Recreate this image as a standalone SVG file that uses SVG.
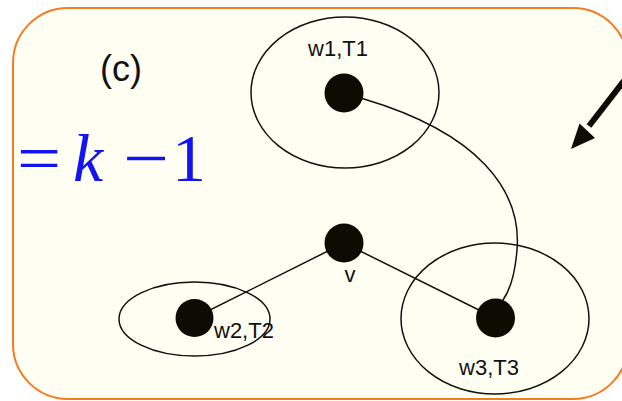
<svg xmlns="http://www.w3.org/2000/svg" width="622" height="401" viewBox="0 0 622 401">
<style>
.frame{fill:#fefef3;stroke:#f77b1f;stroke-width:2}
.set{fill:none;stroke:#111;stroke-width:1.5}
.dot{fill:#0d0c02}
.edge{fill:none;stroke:#111;stroke-width:1.5}
.lbl{font-family:"Liberation Sans",Arial,sans-serif;font-size:22px;fill:#111}
.math{font-family:"Liberation Serif","Times New Roman",serif;font-size:68px;fill:#1414f0}
</style>
<rect class="frame" x="13" y="8" width="615" height="391" rx="55" ry="55"/>
<text class="lbl" x="100" y="81" style="font-size:36px">(c)</text>
<g id="formula">
<text class="math" transform="translate(17,181) scale(1.15,1)" x="0" y="0">=</text>
<text class="math" x="73" y="181" font-style="italic">k</text>
<text class="math" transform="translate(123,181) scale(1.2,1)" x="0" y="0">−</text>
<text class="math" x="172" y="181">1</text>
</g>
<g id="pointer">
<line x1="630" y1="73" x2="589" y2="126" stroke="#0d0c02" stroke-width="6"/>
<polygon points="571,149 579.5,123.5 595,138" fill="#0d0c02"/>
</g>
<g id="connectors">
<line class="edge" x1="344" y1="243" x2="194" y2="318"/>
<line class="edge" x1="344" y1="243" x2="495" y2="318"/>
<path class="edge" d="M344,93 L364,99 C478,133 522,190 517,250 C515,275 510,290 503,300 L495,318"/>
</g>
<g id="w1">
<ellipse class="set" cx="345" cy="92.5" rx="94" ry="75.5"/>
<circle class="dot" cx="344" cy="93" r="19.5"/>
<text class="lbl" x="338" y="56" text-anchor="middle">w1,T1</text>
</g>
<g id="v">
<circle class="dot" cx="344" cy="243" r="19.5"/>
<text class="lbl" x="350" y="282" text-anchor="middle">v</text>
</g>
<g id="w2">
<ellipse class="set" cx="194.5" cy="319" rx="75.5" ry="37"/>
<circle class="dot" cx="194.5" cy="318" r="19"/>
<text class="lbl" x="214" y="338">w2,T2</text>
</g>
<g id="w3">
<ellipse class="set" cx="495" cy="318.5" rx="94" ry="75.5"/>
<circle class="dot" cx="495.5" cy="318" r="19.5"/>
<text class="lbl" x="489" y="375" text-anchor="middle">w3,T3</text>
</g>
</svg>
